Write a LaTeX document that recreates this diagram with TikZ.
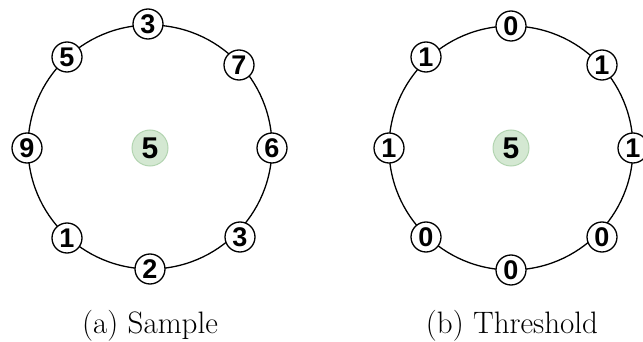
\documentclass[tikz,border=0pt]{standalone}
\usepackage{fontspec}
\newfontfamily\numfont{Liberation Sans}
\definecolor{ctrfill}{RGB}{212,232,210}
\definecolor{ctredge}{RGB}{178,212,176}
\begin{document}
\begin{tikzpicture}[x=1pt,y=-1pt,
  ring/.style={draw=black,line width=1.3pt},
  val/.style={circle,draw=black,line width=1.3pt,fill=white,minimum size=30pt,inner sep=0pt,font=\numfont\bfseries\fontsize{27}{27}\selectfont},
  ctr/.style={circle,draw=ctredge,line width=1pt,fill=ctrfill,minimum size=36pt,inner sep=0pt,font=\numfont\bfseries\fontsize{30}{30}\selectfont},
  captext/.style={anchor=base,font=\fontsize{31}{36}\selectfont}]
\useasboundingbox (0,0) rectangle (643,342);
\clip (0,0) rectangle (643,342);
% left
\coordinate (L) at (150,147);
\draw[ring] (L) circle (122);
\node[ctr] (lc) at (150,148) {5};
\node[val] (l1) at (148,24) {3};
\node[val] (l2) at (239,65) {7};
\node[val] (l3) at (272,148) {6};
\node[val] (l4) at (240,237) {3};
\node[val] (l5) at (150,269) {2};
\node[val] (l6) at (67,238) {1};
\node[val] (l7) at (27,148) {9};
\node[val] (l8) at (67,57) {5};
% right
\coordinate (R) at (511,148);
\draw[ring] (R) circle (122);
\node[ctr] (rc) at (R) {5};
\node[val] (r1) at (511,26) {0};
\node[val] (r2) at (602,65) {1};
\node[val] (r3) at (633,148) {1};
\node[val] (r4) at (602,237) {0};
\node[val] (r5) at (511,270) {0};
\node[val] (r6) at (426,237) {0};
\node[val] (r7) at (389,148) {1};
\node[val] (r8) at (426,57) {1};
% captions
\node[captext] (ca) at (150,333) {(a) Sample};
\node[captext] (cb) at (512,333) {(b) Threshold};
\end{tikzpicture}
\end{document}
